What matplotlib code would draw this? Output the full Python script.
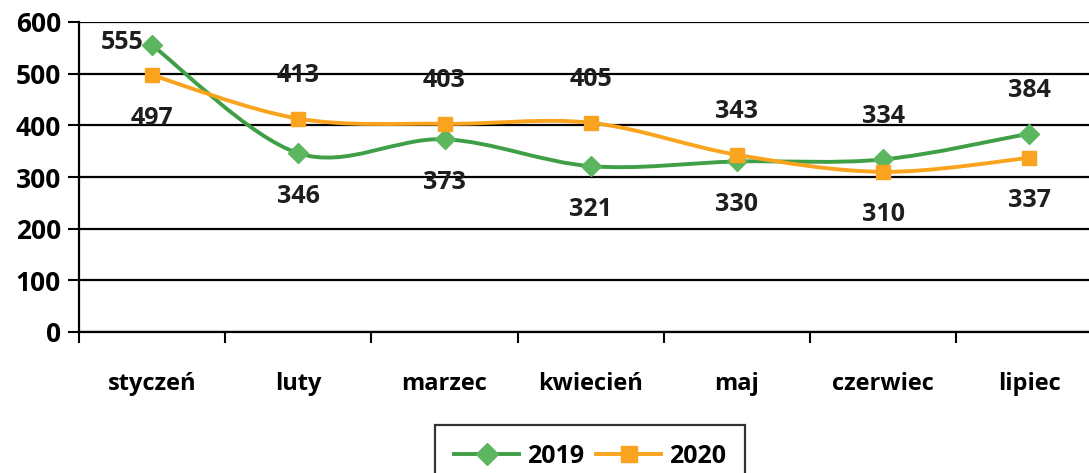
import numpy as np
import matplotlib
matplotlib.use("Agg")
import matplotlib.pyplot as plt
from matplotlib.path import Path
from matplotlib.patches import PathPatch
from matplotlib.lines import Line2D

plt.rcParams['font.family'] = ['Open Sans', 'DejaVu Sans']
plt.rcParams['font.weight'] = 'bold'

# dane
miesiace = ["styczeń", "luty", "marzec", "kwiecień", "maj", "czerwiec", "lipiec"]
v2019 = [555, 346, 373, 321, 330, 334, 384]
v2020 = [497, 413, 403, 405, 343, 310, 337]
# pozycja etykiety: 1 = nad punktem, -1 = pod punktem, 0 = z lewej
pos2019 = [0, -1, -1, -1, -1, 1, 1]
pos2020 = [-1, 1, 1, 1, 1, -1, -1]

green_line = "#3f9f47"
green_mark = "#5cb65f"
orange = "#f9a31e"


def smooth_path(x, y):
    # krzywa gladka jak w Excelu (Catmull-Rom -> Bezier)
    pts = np.column_stack([x, y]).astype(float)
    ext = np.vstack([pts[0], pts, pts[-1]])
    verts = [pts[0]]
    codes = [Path.MOVETO]
    for i in range(len(pts) - 1):
        p0, p1, p2, p3 = ext[i], ext[i + 1], ext[i + 2], ext[i + 3]
        c1 = p1 + (p2 - p0) / 6.0
        c2 = p2 - (p3 - p1) / 6.0
        verts += [c1, c2, p2]
        codes += [Path.CURVE4] * 3
    return Path(verts, codes)


fig = plt.figure(figsize=(10.89, 4.73), dpi=100)
ax = fig.add_axes([79 / 1089, 1 - 332 / 473, 1 - 79 / 1089, (332 - 22) / 473])

x = np.arange(len(miesiace))

for vals, lc, mc, mk, ms, pos in [(v2019, green_line, green_mark, "D", 10, pos2019),
                                  (v2020, orange, orange, "s", 10, pos2020)]:
    ax.add_patch(PathPatch(smooth_path(x, vals), facecolor="none", edgecolor=lc,
                           lw=2.8, zorder=3))
    ax.plot(x, vals, linestyle="none", marker=mk, ms=ms, color=mc, zorder=4)
    for xi, v, p in zip(x, vals, pos):
        if p == 0:
            ax.annotate(str(v), (xi, v), xytext=(-6, 2), textcoords="offset points",
                        ha="right", va="center", fontsize=18, fontweight="bold",
                        color="#1e1e1e")
        else:
            ax.annotate(str(v), (xi, v), xytext=(0, 31 * p), textcoords="offset points",
                        ha="center", va="center", fontsize=18, fontweight="bold",
                        color="#1e1e1e")

ax.set_xlim(-0.5, -0.5 + (1089 - 79) / 146.2)
ax.set_ylim(0, 600)
ax.set_yticks(np.arange(0, 601, 100))
ax.yaxis.grid(True, color="black", lw=1.6)
ax.set_axisbelow(True)

ax.set_xticks(x)
ax.set_xticklabels(miesiace, fontsize=17, fontweight="bold")
ax.tick_params(axis="x", which="major", length=0, pad=29)
ax.set_xticks(np.arange(-0.5, 6.0, 1.0), minor=True)
ax.tick_params(axis="x", which="minor", length=8, width=1.5, direction="out")
ax.tick_params(axis="y", length=8, width=1.5, labelsize=19, pad=5)
for lab in ax.get_yticklabels():
    lab.set_fontweight("bold")

for s in ["top", "right"]:
    ax.spines[s].set_visible(False)
ax.spines["left"].set_linewidth(1.6)
ax.spines["bottom"].set_linewidth(1.6)

handles = [Line2D([], [], color=green_line, lw=2.8, marker="D", ms=11, mfc=green_mark, mec=green_mark),
           Line2D([], [], color=orange, lw=2.8, marker="s", ms=11)]
leg = fig.legend(handles, ["2019", "2020"], loc="upper center",
                 bbox_to_anchor=(590 / 1089, 1 - 425 / 473), ncol=2, frameon=True,
                 fancybox=False, edgecolor="black", handlelength=2.6,
                 columnspacing=0.5, handletextpad=0.3, borderpad=0.75, borderaxespad=0,
                 prop={"family": ["Open Sans", "DejaVu Sans"], "weight": "bold", "size": 18})
leg.get_frame().set_linewidth(1.6)

fig.savefig("out.png", dpi=100)
